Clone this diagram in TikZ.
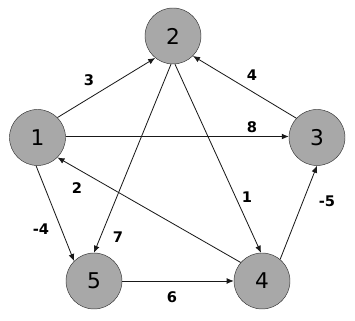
\documentclass[tikz,border=0pt]{standalone}
\usepackage{fontspec}
\setmainfont{DejaVu Sans}
\usetikzlibrary{arrows.meta}
\definecolor{nodegray}{RGB}{168,168,168}
\begin{document}
\begin{tikzpicture}[x=0.03cm, y=-0.03cm,
  vertex/.style={circle, draw=black!80, fill=nodegray, minimum size=56*0.03cm,
    inner sep=0pt, font=\fontsize{18.5}{20}\selectfont},
  weight/.style={font=\fontsize{12.5}{14}\selectfont\bfseries},
  edge/.style={-{Latex[length=6pt,width=5pt]}, black!90, line width=0.7pt}]
  \useasboundingbox (0,0) rectangle (355,321);

  \node[vertex] (n1) at (37.5,137.5) {1};
  \node[vertex] (n2) at (173,36) {2};
  \node[vertex] (n3) at (317,137.5) {3};
  \node[vertex] (n4) at (262,281) {4};
  \node[vertex] (n5) at (94,281) {5};

  \draw[edge] (n1.45) -- (n2.231);
  \draw[edge] (n1.2) -- (n3.178);
  \draw[edge] (n3.137) -- (n2.-45);
  \draw[edge] (n2.266) -- (n5.90);
  \draw[edge] (n2.274) -- (n4.92);
  \draw[edge] (n4.139) -- (n1.-45);
  \draw[edge] (n1.267) -- (n5.135);
  \draw[edge] (n5.0) -- (n4.180);
  \draw[edge] (n4.50) -- (n3.270);

  \node[weight] (w12) at (89,80) {3};
  \node[weight] (w32) at (252,75) {4};
  \node[weight] (w13) at (252,127) {8};
  \node[weight] (w41) at (77,188) {2};
  \node[weight] (w24) at (247,197) {1};
  \node[weight] (w43) at (327,201) {-5};
  \node[weight] (w15) at (41,229) {-4};
  \node[weight] (w25) at (118,237) {7};
  \node[weight] (w54) at (172,297) {6};
\end{tikzpicture}
\end{document}
